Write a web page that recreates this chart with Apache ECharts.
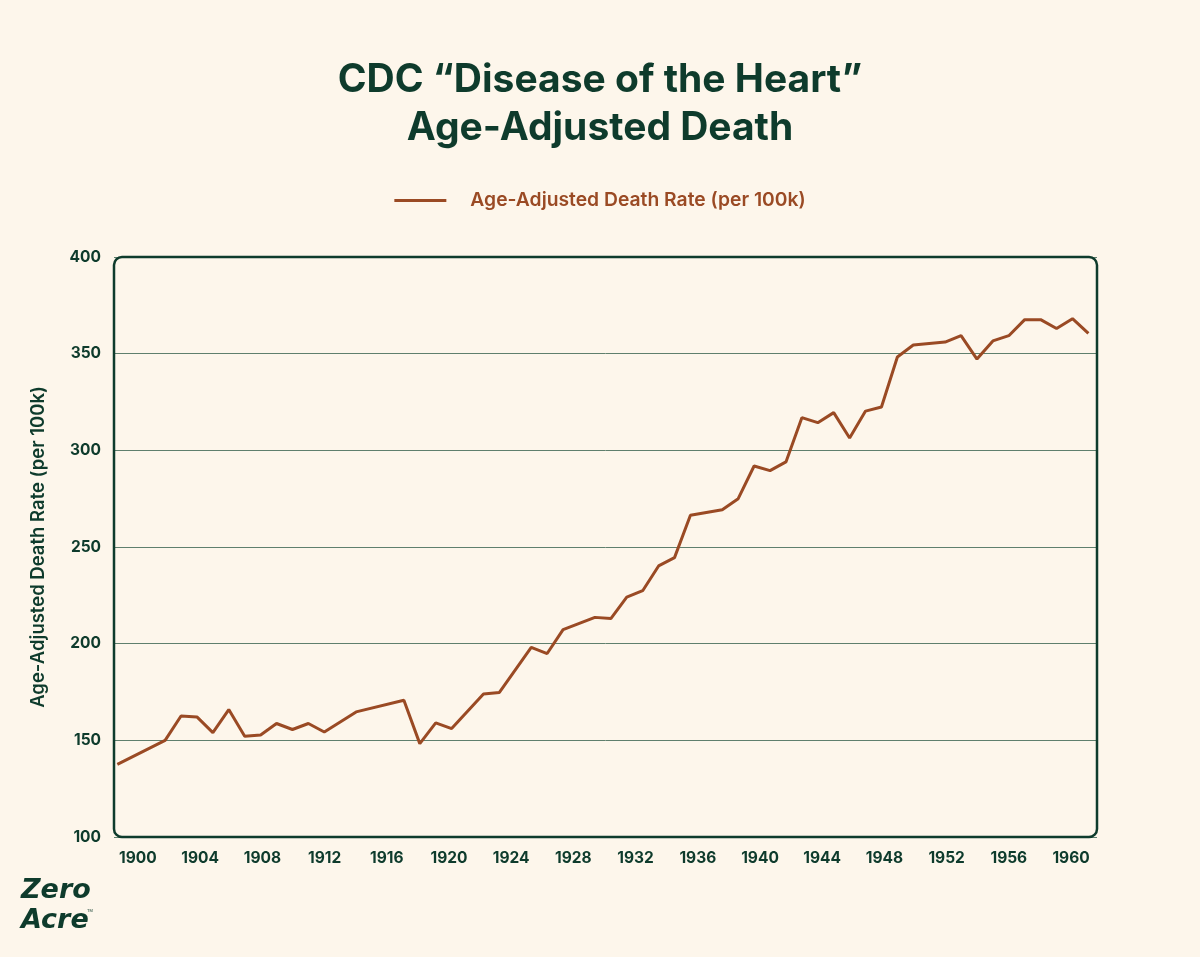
<!DOCTYPE html>
<html>
<head>
<meta charset="utf-8">
<script src="https://cdn.jsdelivr.net/npm/echarts@6/dist/echarts.min.js"></script>
<style>
  html, body { margin: 0; padding: 0; background: #fdf6eb; }
  #chart { width: 1200px; height: 957px; }
</style>
</head>
<body>
<div id="chart"></div>
<script>
// ---- data ----
const years = [1900, 1903, 1904, 1905, 1906, 1907, 1908, 1909, 1910, 1911, 1912, 1913,
  1915, 1918, 1919, 1920, 1921, 1923, 1924, 1926, 1927, 1928, 1930, 1931, 1932, 1933,
  1934, 1935, 1936, 1938, 1939, 1940, 1941, 1942, 1943, 1944, 1945, 1946, 1947, 1948,
  1949, 1950, 1952, 1953, 1954, 1955, 1956, 1957, 1958, 1959, 1960, 1961];
const rates = [137.6, 150.0, 162.6, 162.1, 154.0, 165.9, 152.1, 152.8, 158.7, 155.6, 158.7, 154.3,
  164.7, 170.7, 148.3, 159.0, 156.1, 174.0, 174.8, 198.1, 194.9, 207.3, 213.6, 213.0, 224.1, 227.4,
  240.2, 244.5, 266.4, 269.3, 275.0, 291.9, 289.5, 294.0, 316.9, 314.3, 319.5, 306.4, 320.3, 322.4,
  348.3, 354.5, 356.0, 359.3, 347.2, 356.6, 359.3, 367.6, 367.6, 363.0, 368.1, 360.5];
const xTickYears = [1900, 1904, 1908, 1912, 1916, 1920, 1924, 1928, 1932, 1936, 1940, 1944, 1948, 1952, 1956, 1960];
const yMin = 100, yMax = 400, yStep = 50;
const seriesName = 'Age-Adjusted Death Rate (per 100k)';
const titleText = 'CDC \u201CDisease of the Heart\u201D\nAge-Adjusted Death';

// ---- style ----
const GREEN = '#0e3b2c';
const RUST = '#9a4a24';
const BG = '#fdf6eb';
const FONT = 'Inter, "Noto Sans", sans-serif';
const G = { left: 114, top: 257, width: 983, height: 580 };

const chart = echarts.init(document.getElementById('chart'), null, { renderer: 'canvas' });
chart.setOption({
  backgroundColor: BG,
  animation: false,
  title: {
    text: titleText,
    left: 'center',
    top: 56,
    padding: 0,
    textStyle: { fontFamily: FONT, fontSize: 39, fontWeight: 700, color: GREEN, lineHeight: 48 }
  },
  legend: {
    data: [seriesName],
    left: 'center',
    top: 186,
    icon: 'rect',
    itemWidth: 52,
    itemHeight: 3,
    textStyle: { fontFamily: FONT, fontSize: 19.3, fontWeight: 600, color: RUST, padding: [0, 0, 0, 19] }
  },
  grid: { left: G.left, top: G.top, width: G.width, height: G.height, containLabel: false },
  xAxis: [
    {
      type: 'value',
      min: 1899.79,
      max: 1961.54,
      position: 'bottom',
      axisLabel: { show: false },
      axisLine: { show: false },
      axisTick: { show: false },
      splitLine: { show: false }
    },
    {
      type: 'value',
      min: 1898.46,
      max: 1961.67,
      position: 'bottom',
      axisLine: { show: false },
      axisTick: { show: false },
      splitLine: { show: false },
      axisLabel: {
        customValues: xTickYears,
        margin: 13,
        fontFamily: FONT, fontSize: 15.5, fontWeight: 700, color: GREEN,
        formatter: v => String(v)
      }
    }
  ],
  yAxis: {
    type: 'value',
    min: yMin,
    max: yMax,
    interval: yStep,
    name: seriesName,
    nameLocation: 'middle',
    nameRotate: 90,
    nameGap: 66,
    nameTextStyle: { fontFamily: FONT, fontSize: 18.5, fontWeight: 600, color: GREEN },
    axisLine: { show: false },
    axisTick: { show: false },
    axisLabel: { margin: 13, fontFamily: FONT, fontSize: 15.5, fontWeight: 700, color: GREEN },
    splitLine: { show: true, lineStyle: { color: '#5f7f6d', width: 1 } }
  },
  graphic: [
    {
      type: 'rect',
      z: 10,
      silent: true,
      shape: { x: G.left, y: G.top, width: G.width, height: G.height, r: 8 },
      style: { fill: null, stroke: GREEN, lineWidth: 2.5 }
    },
    {
      type: 'text',
      left: 21,
      top: 876,
      z: 10,
      style: {
        text: 'Zero\nAcre',
        fill: GREEN,
        font: 'italic bold 27px "DejaVu Sans", sans-serif',
        lineHeight: 30
      }
    },
    {
      type: 'text',
      left: 87,
      top: 909,
      style: { text: 'TM', fill: GREEN, font: '4px sans-serif' }
    }
  ],
  series: [{
    name: seriesName,
    type: 'line',
    xAxisIndex: 0,
    data: years.map((y, i) => [y, rates[i]]),
    showSymbol: false,
    symbol: 'none',
    color: RUST,
    lineStyle: { color: RUST, width: 3 },
    clip: true
  }]
});
</script>
</body>
</html>
